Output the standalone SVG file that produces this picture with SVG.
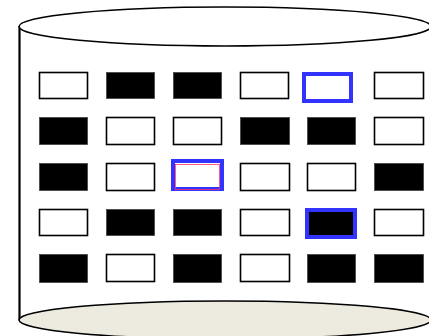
<svg xmlns="http://www.w3.org/2000/svg" width="429" height="336" viewBox="0 0 429 336">
<style>
.cyl{fill:#fff;stroke:#000;stroke-width:1.6}
.base{fill:#EDEBE0;stroke:#000;stroke-width:1.6}
.side{stroke:#000;stroke-width:2.2;fill:none}
.w{fill:#fff;stroke:#000;stroke-width:1.6}
.b{fill:#000;stroke:#444;stroke-width:0.8}
.hl{stroke:#3333FF;stroke-width:4}
</style>
<g id="cylinder">
<rect x="19" y="26" width="412" height="294" fill="#fff"/>
<line class="side" x1="19.5" y1="26" x2="19.5" y2="320"/>
<ellipse class="base" cx="225" cy="320" rx="206" ry="19"/>
<ellipse class="cyl" cx="225" cy="26.5" rx="206" ry="19.5"/>
</g>
<g id="cells">
<g id="row1">
<rect class="w" x="39.5" y="72.5" width="48" height="26"/>
<rect class="b" x="106.5" y="72.5" width="48" height="26"/>
<rect class="b" x="173.5" y="72.5" width="48" height="26"/>
<rect class="w" x="240.5" y="72.5" width="48" height="26"/>
<rect class="w hl" x="304" y="74" width="47" height="27"/>
<rect class="w" x="374.5" y="72.5" width="49" height="26"/>
</g>
<g id="row2">
<rect class="b" x="39.5" y="117.5" width="48" height="27"/>
<rect class="w" x="106.5" y="117.5" width="48" height="27"/>
<rect class="w" x="173.5" y="117.5" width="48" height="27"/>
<rect class="b" x="240.5" y="117.5" width="49" height="27"/>
<rect class="b" x="307.5" y="117.5" width="48" height="27"/>
<rect class="w" x="374.5" y="117.5" width="49" height="27"/>
</g>
<g id="row3">
<rect class="b" x="39.5" y="163.5" width="48" height="27"/>
<rect class="w" x="106.5" y="163.5" width="48" height="27"/>
<rect class="w hl" x="173" y="161" width="49" height="28"/>
<rect x="175.5" y="164.5" width="44" height="25" fill="none" stroke="#FF3366" stroke-width="0.8"/>
<rect class="w" x="240.5" y="163.5" width="49" height="27"/>
<rect class="w" x="307.5" y="163.5" width="48" height="27"/>
<rect class="b" x="374.5" y="163.5" width="49" height="27"/>
</g>
<g id="row4">
<rect class="w" x="39.5" y="209.5" width="48" height="26"/>
<rect class="b" x="106.5" y="209.5" width="48" height="26"/>
<rect class="b" x="173.5" y="209.5" width="48" height="26"/>
<rect class="w" x="240.5" y="209.5" width="49" height="26"/>
<rect class="b hl" x="307" y="210" width="48" height="27"/>
<rect class="w" x="374.5" y="209.5" width="49" height="26"/>
</g>
<g id="row5">
<rect class="b" x="39.5" y="254.5" width="48" height="28"/>
<rect class="w" x="106.5" y="254.5" width="48" height="27"/>
<rect class="b" x="173.5" y="254.5" width="48" height="28"/>
<rect class="w" x="240.5" y="254.5" width="49" height="27"/>
<rect class="b" x="307.5" y="254.5" width="48" height="28"/>
<rect class="b" x="374.5" y="254.5" width="49" height="28"/>
</g>
</g>
<g id="connectors"></g>
</svg>
